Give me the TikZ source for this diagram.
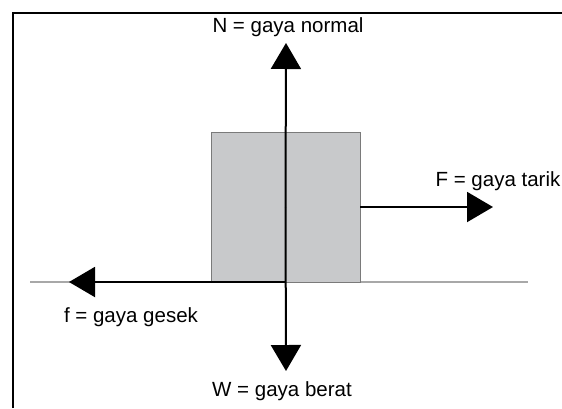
\documentclass[tikz,border=0pt]{standalone}
\usepackage{fontspec}
\setmainfont{Liberation Sans}
\usetikzlibrary{arrows.meta}
\definecolor{isiblok}{HTML}{C8C9CB}
\definecolor{tepiblok}{HTML}{7A7A7A}
\definecolor{lantai}{HTML}{A8A8A8}
\tikzset{
    gaya/.style={line width=2pt, -{Triangle[length=26pt,width=30pt]}},
    teks/.style={font=\fontsize{20.5}{24}\selectfont, inner sep=0pt},
}
\begin{document}
\begin{tikzpicture}[x=1pt,y=-1pt]
    \useasboundingbox (0,0) rectangle (562,408);
    \draw[line width=2pt] (13,408) |- (562,13);

    \draw[lantai, line width=1.5pt] (30,282) -- (528,282);
    \node[draw=tepiblok, fill=isiblok, line width=0.8pt, inner sep=0pt,
          minimum width=149pt, minimum height=150pt] (blok) at (285.5,207) {};

    \coordinate (alas)   at (286,282);
    \coordinate (ujungN) at (286,43);
    \coordinate (ujungW) at (286,371);
    \coordinate (ujungF) at (493,207);
    \coordinate (ujungf) at (69,282);

    \draw[gaya] (blok.center) -- (ujungN);
    \draw[gaya] (blok.center) -- (ujungW);
    \draw[gaya] (blok.east)   -- (ujungF);
    \draw[gaya] (alas)        -- (ujungf);

    \node[teks] (labelN) at (288,27)  {N = gaya normal};
    \node[teks] (labelW) at (282,391) {W = gaya berat};
    \node[teks] (labelF) at (498,181) {F = gaya tarik};
    \node[teks] (labelf) at (131,317) {f = gaya gesek};
\end{tikzpicture}
\end{document}
